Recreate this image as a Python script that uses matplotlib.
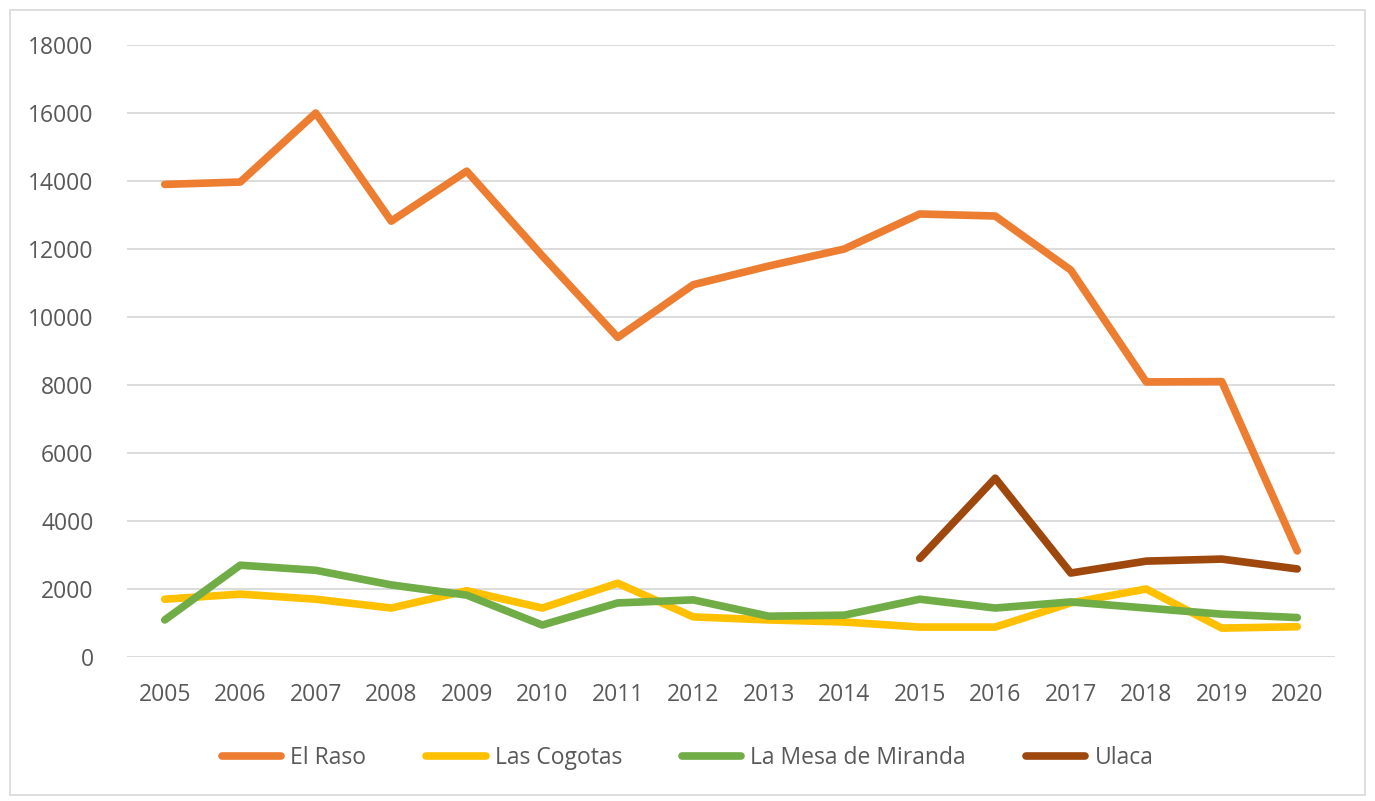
import numpy as np
import matplotlib.pyplot as plt
from matplotlib.patches import Rectangle

years = [str(y) for y in range(2005, 2021)]

el_raso = [13900, 13970, 16000, 12820, 14290, 11800, 9400, 10950,
           11500, 12000, 13030, 12970, 11380, 8090, 8100, 3120]
las_cogotas = [1700, 1850, 1700, 1440, 1950, 1440, 2170, 1180,
               1090, 1030, 880, 880, 1590, 2000, 850, 890]
la_mesa = [1090, 2700, 2550, 2120, 1820, 940, 1590, 1680,
           1200, 1230, 1700, 1440, 1620, 1440, 1260, 1160]
ulaca = [np.nan] * 10 + [2900, 5260, 2470, 2820, 2880, 2590]

series = [
    ("El Raso", el_raso, "#ED7D31"),
    ("Las Cogotas", las_cogotas, "#FFC000"),
    ("La Mesa de Miranda", la_mesa, "#70AD47"),
    ("Ulaca", ulaca, "#9E480E"),
]

plt.rcParams['font.family'] = ['Open Sans', 'DejaVu Sans']

fig = plt.figure(figsize=(13.75, 8.01), dpi=100)
W, H = 1375, 801
ax = fig.add_axes([127 / W, 1 - 657 / H, (1335 - 127) / W, (657 - 45) / H])

x = np.arange(len(years))
for name, vals, col in series:
    ax.plot(x, vals, color=col, lw=5.5, label=name, solid_capstyle='round',
            solid_joinstyle='round')

ax.set_xlim(-0.5, len(years) - 0.5)
ax.set_ylim(0, 18000)
ax.set_yticks(np.arange(0, 18001, 2000))
ax.set_xticks(x)
ax.set_xticklabels(years)
ax.grid(axis='y', color='#D9D9D9', lw=1.3)
ax.set_axisbelow(True)
for s in ax.spines.values():
    s.set_visible(False)
ax.tick_params(length=0, labelsize=16.5, labelcolor='#595959')
ax.tick_params(axis='y', pad=24)
ax.tick_params(axis='x', pad=19)

fig.patches.append(Rectangle((10 / W, 6 / H), 1355 / W, 785 / H,
                             transform=fig.transFigure, fill=False,
                             edgecolor='#D9D9D9', lw=1.2))

fig.legend(loc='center', bbox_to_anchor=(0.5, 1 - 758 / H), ncol=4,
           frameon=False, fontsize=16.5, labelcolor='#595959',
           handlelength=2.6, columnspacing=2.6, handletextpad=0.4)

fig.savefig('out.png', dpi=100)
